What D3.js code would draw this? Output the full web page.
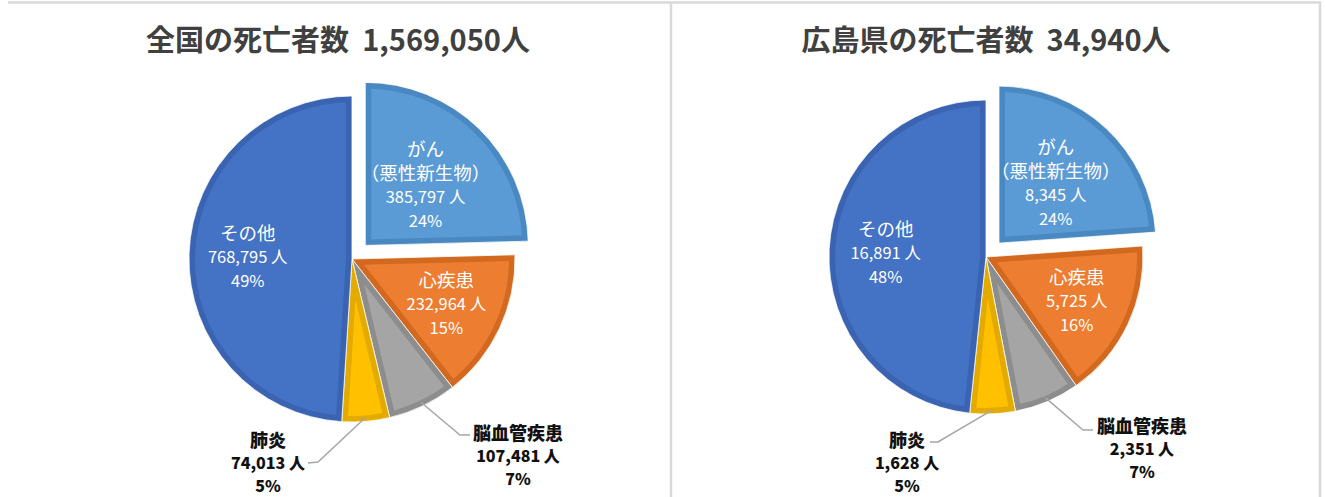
<!DOCTYPE html>
<html>
<head>
<meta charset="utf-8">
<script src="https://cdn.jsdelivr.net/npm/d3@7"></script>
<style>
    body { margin: 0; background: #fff; }
    text { font-family: "Noto Sans CJK JP", "Noto Sans", sans-serif; }
</style>
</head>
<body>
<script>
// data
const causes = ["がん", "心疾患", "脳血管疾患", "肺炎", "その他"];
const causeNotes = ["（悪性新生物）", "", "", "", ""];
const nationalDeaths = [385797, 232964, 107481, 74013, 768795];
const nationalPct = [24, 15, 7, 5, 49];
const hiroshimaDeaths = [8345, 5725, 2351, 1628, 16891];
const hiroshimaPct = [24, 16, 7, 5, 48];
const chartTitles = ["全国の死亡者数", "広島県の死亡者数"];

// styles
const fills = ["#5b9bd5", "#ed7d31", "#a5a5a5", "#ffc000", "#4472c4"];
const borders = ["#4a88c2", "#d2691f", "#8d8d8d", "#e3aa00", "#3a63b1"];
const outside = [false, false, true, true, false];

const width = 1326, height = 497;
const svg = d3.select("body").append("svg").attr("width", width).attr("height", height);

// panel frames
svg.append("line").attr("x1", 8).attr("x2", 670).attr("y1", 2.5).attr("y2", 2.5)
    .attr("stroke", "#d9d9d9").attr("stroke-width", 2.5);
svg.append("rect").attr("x", 671).attr("y", 2.5).attr("width", 649).attr("height", 510)
    .attr("fill", "none").attr("stroke", "#d9d9d9").attr("stroke-width", 2.5);

const fmt = d3.format(",");

const charts = [
    {
        key: "zenkoku", values: nationalDeaths, pct: nationalPct, title: chartTitles[0],
        titleX: 338, cx: 352, cy: 259, r: 163,
        // callout layout, relative to pie centre: elbow, line end, label centre x, first line y
        callouts: {
            2: { elbow: [108, 176], end: [118, 176], lx: 166, ly: 173 },
            3: { elbow: [-34, 203], end: [-44, 204], lx: -84, ly: 180 },
        },
    },
    {
        key: "hiroshima", values: hiroshimaDeaths, pct: hiroshimaPct, title: chartTitles[1],
        titleX: 986, cx: 986, cy: 257, r: 157,
        callouts: {
            2: { elbow: [97, 173], end: [107, 173], lx: 156, ly: 168 },
            3: { elbow: [-48, 185], end: [-56, 185], lx: -79, ly: 182 },
        },
    },
];

const lineH = 24;
// name lines are set a little larger than the number lines
const lineSize = (ln) => (/[0-9%]/.test(ln) ? 16.5 : 18.5);

charts.forEach((c) => {
    const total = d3.sum(c.values);

    // title
    svg.append("text")
        .attr("x", c.titleX).attr("y", 38)
        .attr("text-anchor", "middle").attr("dominant-baseline", "central")
        .attr("font-size", 29).attr("font-weight", "bold").attr("fill", "#404040")
        .style("white-space", "pre")
        .text(`${c.title}  ${fmt(total)}人`);

    const pie = d3.pie().sort(null).value((d) => d)(c.values);
    const arc = d3.arc().innerRadius(0).outerRadius(c.r);
    const g = svg.append("g").attr("transform", `translate(${c.cx},${c.cy})`);

    const explode = (d, i) => {
        if (i !== 0) return [0, 0];
        const mid = (d.startAngle + d.endAngle) / 2;
        return [Math.sin(mid) * 19, -Math.cos(mid) * 19];
    };

    // slices
    pie.forEach((d, i) => {
        const [ox, oy] = explode(d, i);
        const sg = g.append("g").attr("transform", `translate(${ox},${oy})`);
        const id = `clip-${c.key}-${i}`;
        sg.append("clipPath").attr("id", id).append("path").attr("d", arc(d));
        sg.append("path")
            .attr("d", arc(d))
            .attr("fill", fills[i])
            .attr("stroke", borders[i])
            .attr("stroke-width", 12)
            .attr("stroke-linejoin", "miter")
            .attr("clip-path", `url(#${id})`);
        sg.append("path").attr("d", arc(d)).attr("fill", "none").attr("stroke", "#fff").attr("stroke-width", 0.8);
    });

    // labels
    pie.forEach((d, i) => {
        const lines = [causes[i]];
        if (causeNotes[i]) lines.push(causeNotes[i]);
        lines.push(`${fmt(c.values[i])} 人`, `${c.pct[i]}%`);

        if (!outside[i]) {
            const k = i === 0 ? 0.53 : 0.64;
            const [px, py] = d3.arc().innerRadius(k * c.r).outerRadius(k * c.r).centroid(d);
            const [ox, oy] = explode(d, i);
            const t = g.append("text")
                .attr("text-anchor", "middle")
                .attr("fill", "#fff");
            lines.forEach((ln, j) => {
                t.append("tspan")
                    .attr("x", px + ox)
                    .attr("y", py + oy + (j - (lines.length - 1) / 2) * lineH)
                    .attr("dominant-baseline", "central")
                    .attr("font-size", lineSize(ln))
                    .text(ln);
            });
        } else {
            const co = c.callouts[i];
            const mid = (d.startAngle + d.endAngle) / 2;
            const start = [Math.sin(mid) * (c.r - 4), -Math.cos(mid) * (c.r - 4)];
            g.append("polyline")
                .attr("points", [start, co.elbow, co.end].map((p) => p.join(",")).join(" "))
                .attr("fill", "none").attr("stroke", "#a6a6a6").attr("stroke-width", 1.5);
            const t = g.append("text")
                .attr("text-anchor", "middle")
                .attr("font-weight", 900)
                .attr("fill", "#111");
            lines.forEach((ln, j) => {
                t.append("tspan")
                    .attr("x", co.lx)
                    .attr("y", co.ly + j * 23)
                    .attr("dominant-baseline", "central")
                    .attr("font-size", lineSize(ln) - 0.5)
                    .text(ln);
            });
        }
    });
});
</script>
</body>
</html>
